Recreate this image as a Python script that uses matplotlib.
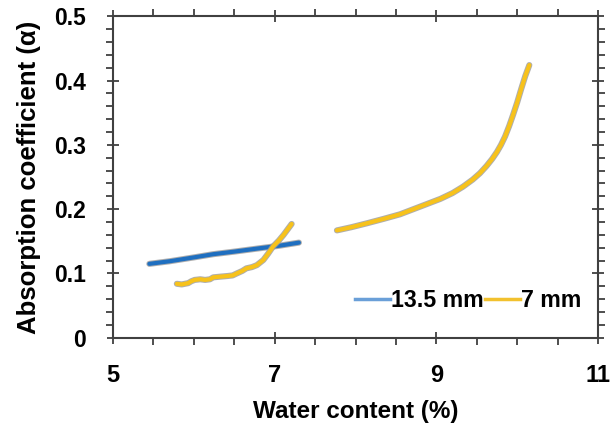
import matplotlib
matplotlib.use("Agg")
import matplotlib.pyplot as plt
import matplotlib.patheffects as pe
from matplotlib.lines import Line2D
from matplotlib.ticker import MultipleLocator

plt.rcParams['font.family'] = ['Liberation Sans', 'DejaVu Sans']
plt.rcParams['font.weight'] = 'bold'

#%% data
thick_x = [5.45, 5.7, 6.0, 6.24, 6.5, 6.8, 7.05, 7.3]
thick_y = [0.115, 0.119, 0.125, 0.130, 0.134, 0.139, 0.143, 0.148]

thin_x1 = [5.79, 5.85, 5.93, 5.97, 6.01, 6.08, 6.14, 6.20, 6.24, 6.32, 6.41,
           6.48, 6.53, 6.60, 6.65, 6.72, 6.78, 6.86, 6.92, 6.98, 7.05, 7.11, 7.21]
thin_y1 = [0.084, 0.083, 0.085, 0.088, 0.090, 0.091, 0.090, 0.091, 0.094, 0.095, 0.096,
           0.097, 0.100, 0.104, 0.108, 0.110, 0.113, 0.121, 0.131, 0.142, 0.151, 0.160, 0.177]

thin_x2 = [7.77, 7.95, 8.14, 8.35, 8.55, 8.80, 9.05, 9.20, 9.33, 9.45, 9.54, 9.62,
           9.69, 9.75, 9.80, 9.85, 9.90, 9.95, 10.00, 10.05, 10.10, 10.15]
thin_y2 = [0.167, 0.172, 0.178, 0.185, 0.192, 0.204, 0.216, 0.225, 0.235, 0.246, 0.256, 0.267,
           0.278, 0.289, 0.300, 0.313, 0.329, 0.347, 0.366, 0.387, 0.407, 0.424]

labels = ["13.5 mm", "7 mm"]
x_ticks = [5, 7, 9, 11]
y_ticks = [0, 0.1, 0.2, 0.3, 0.4, 0.5]
y_ticklabels = ["0", "0.1", "0.2", "0.3", "0.4", "0.5"]

#%% plotting
fig = plt.figure(figsize=(6.14, 4.26), dpi=100)
ax = fig.add_axes([0.184, 0.207, 0.790, 0.755])

glow = [pe.Stroke(linewidth=4.4, foreground='#9a9a9a', alpha=0.8), pe.Normal()]
ax.plot(thick_x, thick_y, color='#1f6fc0', lw=3.0, path_effects=glow, solid_capstyle='round')
ax.plot(thin_x1, thin_y1, color='#f7c21b', lw=3.0, path_effects=glow, solid_capstyle='round')
ax.plot(thin_x2, thin_y2, color='#f7c21b', lw=3.0, path_effects=glow, solid_capstyle='round')

ax.set_xlim(5, 11)
ax.set_ylim(0, 0.5)
ax.set_xticks(x_ticks)
ax.set_yticks(y_ticks)
ax.set_yticklabels(y_ticklabels)
ax.xaxis.set_minor_locator(MultipleLocator(0.5))
ax.yaxis.set_minor_locator(MultipleLocator(0.02))

for s in ax.spines.values():
    s.set_color('#404040')
    s.set_linewidth(1.5)
ax.tick_params(which='major', direction='inout', length=9, width=1.3, color='#404040',
               top=True, right=True, labelsize=17)
ax.tick_params(which='minor', direction='out', length=5, width=1.3, color='#404040',
               top=True, right=True)
ax.tick_params(axis='x', which='major', pad=14)
ax.tick_params(axis='y', which='major', pad=15, labelsize=16.5)

ax.set_xlabel('Water content (%)', fontsize=17.5, fontweight='bold', labelpad=10)
ax.set_ylabel('Absorption coefficient (α)', fontsize=18.5, fontweight='bold', labelpad=9)

handles = [Line2D([], [], color='#6a9fd8', lw=2.5),
           Line2D([], [], color='#f2c12e', lw=2.5)]
ax.legend(handles, labels, loc='center right', bbox_to_anchor=(0.984, 0.115), ncol=2,
          frameon=False, fontsize=16.7, handlelength=1.5, handletextpad=0.05,
          columnspacing=0.05, borderaxespad=0)

plt.savefig('out.png', dpi=100)
